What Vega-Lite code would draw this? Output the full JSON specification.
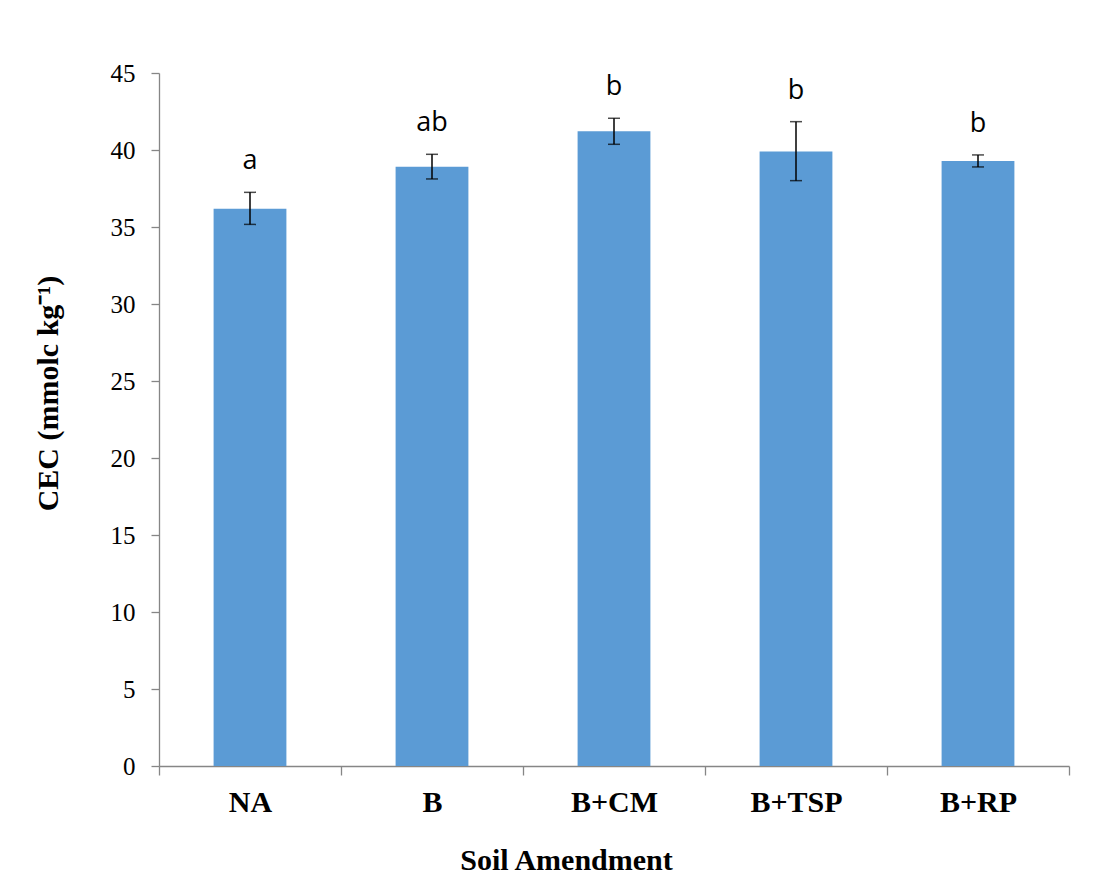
{
  "$schema": "https://vega.github.io/schema/vega-lite/v6.json",
  "width": 910,
  "height": 693,
  "autosize": {"type": "none"},
  "padding": {"left": 159, "top": 73, "right": 28, "bottom": 121},
  "background": "white",
  "config": {"view": {"stroke": null}},
  "data": {"values": [
    {"treatment": "NA", "cec": 36.19, "lo": 35.17, "hi": 37.25, "group": "a"},
    {"treatment": "B", "cec": 38.92, "lo": 38.12, "hi": 39.72, "group": "ab"},
    {"treatment": "B+CM", "cec": 41.21, "lo": 40.37, "hi": 42.06, "group": "b"},
    {"treatment": "B+TSP", "cec": 39.91, "lo": 38.01, "hi": 41.84, "group": "b"},
    {"treatment": "B+RP", "cec": 39.29, "lo": 38.90, "hi": 39.68, "group": "b"}
  ]},
  "encoding": {
    "x": {
      "field": "treatment", "type": "nominal", "sort": null,
      "scale": {"paddingInner": 0, "paddingOuter": 0},
      "axis": {
        "title": "Soil Amendment",
        "labelAngle": 0,
        "tickBand": "extent",
        "labelFont": "Liberation Serif", "labelFontSize": 30, "labelFontWeight": "bold", "labelColor": "black",
        "labelPadding": 12,
        "titleFont": "Liberation Serif", "titleFontSize": 30, "titleFontWeight": "bold", "titleColor": "black",
        "titlePadding": 28,
        "titleX": 407,
        "domainColor": "#868686", "domainWidth": 1.3,
        "tickColor": "#868686", "tickWidth": 1.3, "tickSize": 9
      }
    }
  },
  "layer": [
    {
      "mark": {"type": "bar", "color": "#5B9BD5", "width": {"band": 0.4}},
      "encoding": {
        "y": {
          "field": "cec", "type": "quantitative",
          "scale": {"domain": [0, 45]},
          "axis": {
            "title": "CEC (mmolc kg⁻¹)",
            "values": [0, 5, 10, 15, 20, 25, 30, 35, 40, 45],
            "grid": false,
            "labelFont": "Liberation Serif", "labelFontSize": 25, "labelColor": "black",
            "labelPadding": 16,
            "titleFont": "Liberation Serif", "titleFontSize": 30, "titleFontWeight": "bold", "titleColor": "black",
            "titleX": -96, "titleY": 320,
            "domainColor": "#868686", "domainWidth": 1.3,
            "tickColor": "#868686", "tickWidth": 1.3, "tickSize": 8
          }
        }
      }
    },
    {
      "mark": {"type": "rule", "color": "black", "strokeWidth": 1.5},
      "encoding": {
        "y": {"field": "lo", "type": "quantitative"},
        "y2": {"field": "hi"}
      }
    },
    {
      "mark": {"type": "tick", "color": "black", "size": 12, "thickness": 1.5, "orient": "horizontal"},
      "encoding": {"y": {"field": "hi", "type": "quantitative"}}
    },
    {
      "mark": {"type": "tick", "color": "black", "size": 12, "thickness": 1.5, "orient": "horizontal"},
      "encoding": {"y": {"field": "lo", "type": "quantitative"}}
    },
    {
      "mark": {"type": "text", "font": "Open Sans", "fontSize": 27, "baseline": "alphabetic", "dy": -23, "color": "black"},
      "encoding": {
        "y": {"field": "hi", "type": "quantitative"},
        "text": {"field": "group"}
      }
    }
  ]
}
